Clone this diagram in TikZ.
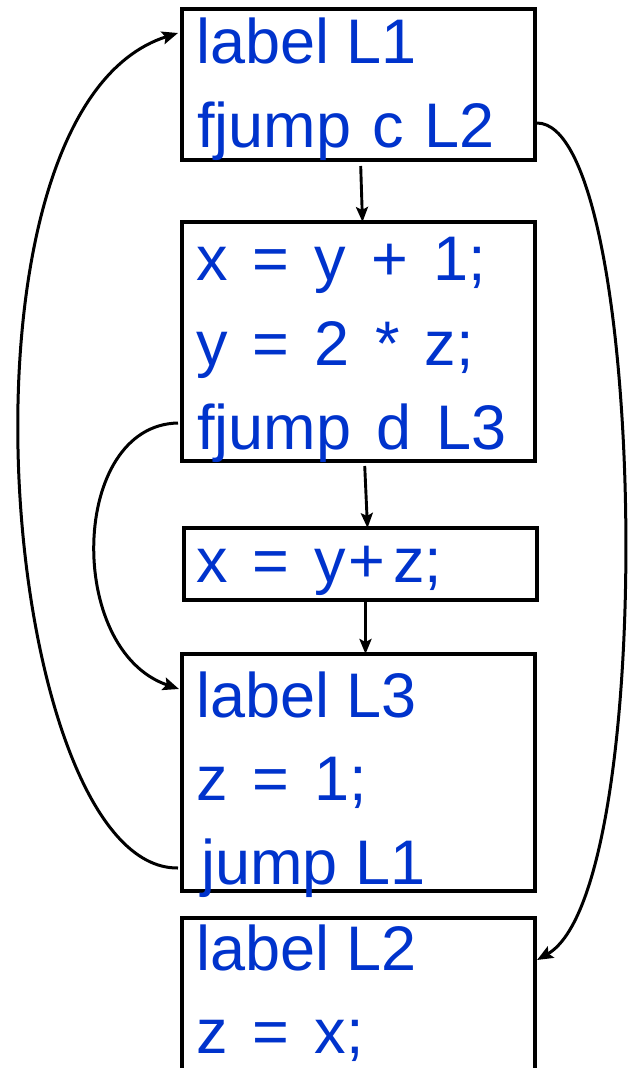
\documentclass[tikz,border=0pt]{standalone}
\usepackage{fontspec}
\setmainfont{Liberation Sans}
% statements with operators are set with looser word spaces
\newfontfamily\opfont{Liberation Sans}[WordSpace=1.42]
\newfontfamily\jmpfont{Liberation Sans}[WordSpace=1.2]
\usetikzlibrary{arrows.meta}
\definecolor{codeblue}{RGB}{0,51,204}
\begin{document}
\begin{tikzpicture}[x=1pt,y=-1pt,
  block/.style={draw=black, line width=3.5pt, fill=none, outer sep=0pt,
    inner sep=0pt, anchor=north west},
  code/.style={text=codeblue, anchor=base west, inner sep=0pt,
    font=\fontsize{63}{63}\selectfont},
  opcode/.style={code, font=\opfont\fontsize{63}{63}\selectfont},
  jcode/.style={code, font=\jmpfont\fontsize{63}{63}\selectfont},
  flow/.style={line width=2.9pt, -{Stealth[length=15pt,width=12pt,inset=3pt]}},
  jmp/.style={line width=3pt, -{Stealth[length=16pt,width=13pt,inset=3pt]}}]
\useasboundingbox (0,0) rectangle (630,1068);
\clip (0,0) rectangle (630,1068);

% basic blocks
\node[block, minimum width=353, minimum height=151] (b1) at (182,9) {};
\node[block, minimum width=353, minimum height=239] (b2) at (182,222) {};
\node[block, minimum width=353, minimum height=72]  (b3) at (184,528) {};
\node[block, minimum width=353, minimum height=237] (b4) at (182,654) {};
\node[block, minimum width=353, minimum height=220] (b5) at (182,918) {};

% statements
\node[code]   (t11) at (196,63)   {label L1};
\node[jcode]  (t12) at (197,147)  {fjump c L2};
\node[opcode] (t21) at (196,280)  {x = y + 1;};
\node[opcode] (t22) at (196,365)  {y = 2 * z;};
\node[jcode]  (t23) at (197,449)  {fjump d L3};
\node[opcode] (t31) at (196,582)  {x = y\hspace{2pt}+\hspace{8pt}z;};
\node[code]   (t41) at (196,717)  {label L3};
\node[opcode] (t42) at (196,800)  {z = 1;};
\node[code]   (t43) at (201,884)  {jump L1};
\node[code]   (t51) at (196,970)  {label L2};
\node[opcode] (t52) at (196,1053) {z = x;};

% fall-through edges
\draw[flow, shorten <=6pt] ([xshift=2pt]b1.south) -- ([xshift=4pt]b2.north);
\draw[flow, shorten <=5pt] ([xshift=6pt]b2.south) -- ([xshift=7pt]b3.north);
\draw[flow] ([xshift=5pt]b3.south) -- ([xshift=7pt]b4.north);

% jump edges
\coordinate (j1s) at (b4.west |- 0,868);
\coordinate (j1e) at (b1.west |- 0,33);
\draw[jmp] ([xshift=-4pt]j1s) .. controls (0,870) and (-64,110) .. ([xshift=-4pt]j1e);

\coordinate (j2s) at (b2.west |- 0,423);
\coordinate (j2e) at (b4.west |- 0,689);
\draw[jmp] ([xshift=-4pt]j2s) .. controls (70,425) and (65,650) .. ([xshift=-3pt]j2e);

\coordinate (j3s) at (b1.east |- 0,123);
\coordinate (j3e) at (b5.east |- 0,960);
\draw[jmp] ([xshift=2pt]j3s) .. controls (647,123) and (660,890) .. ([xshift=2pt]j3e);
\end{tikzpicture}
\end{document}
